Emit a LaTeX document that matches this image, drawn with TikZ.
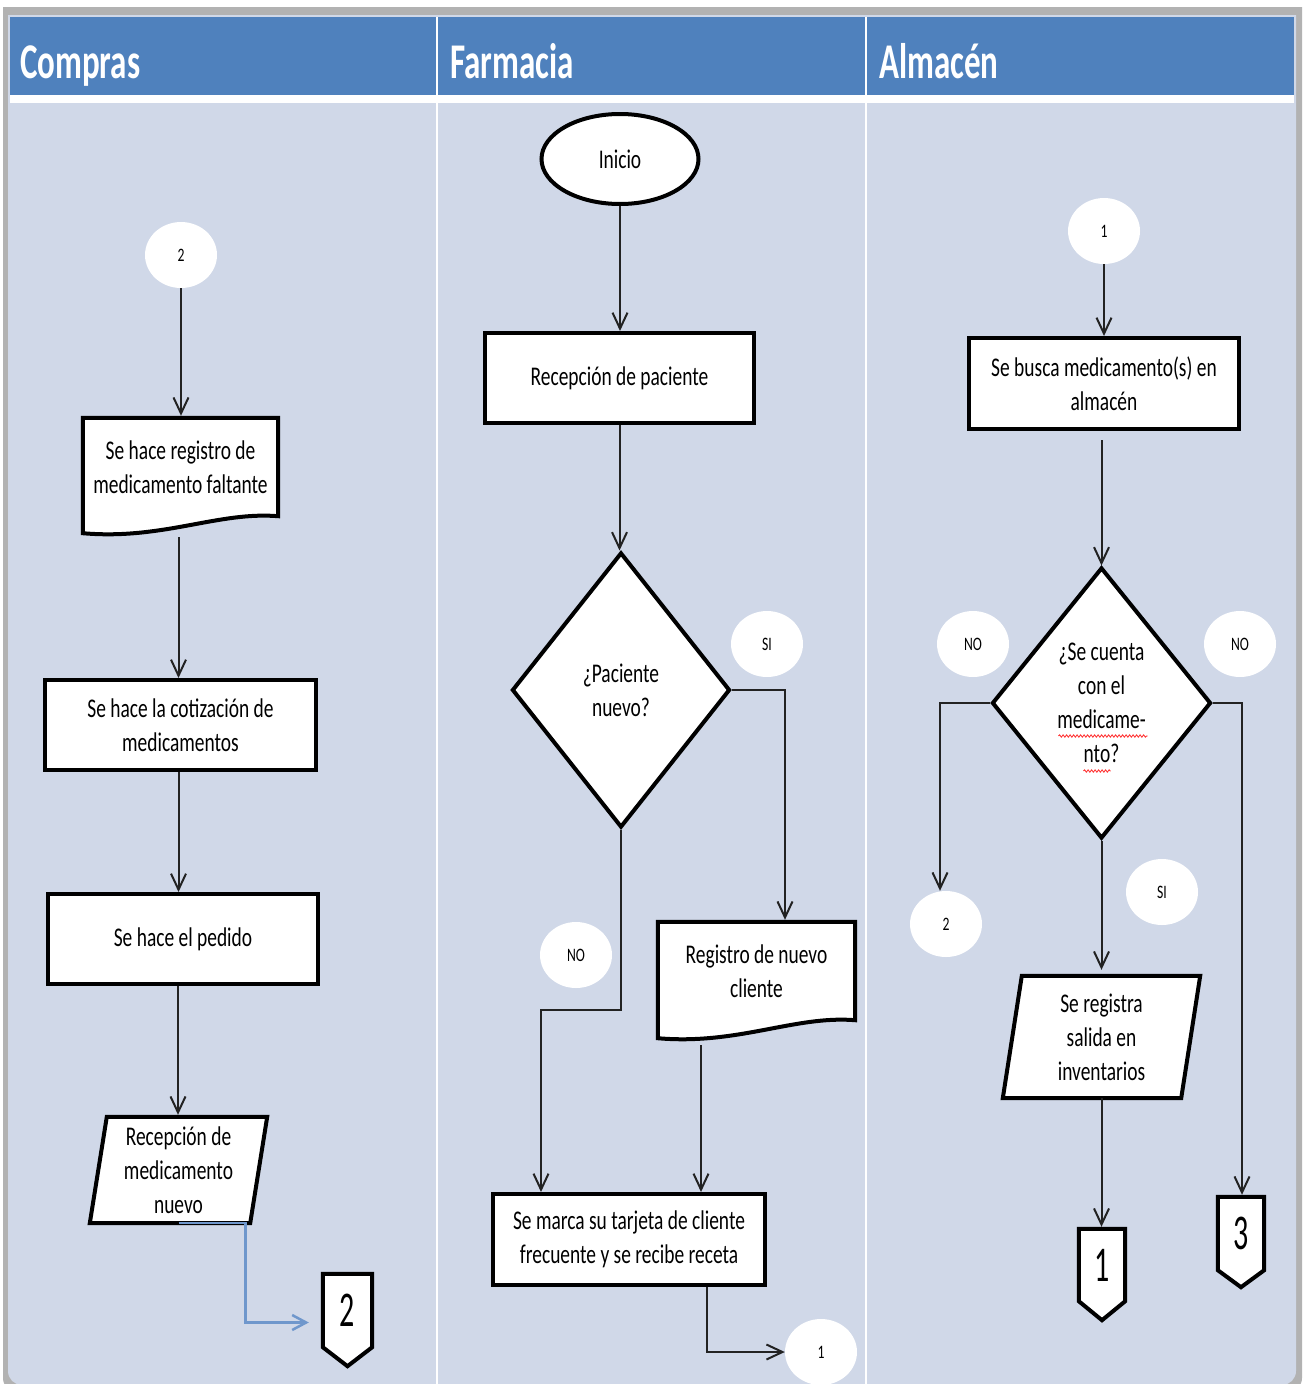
\documentclass[tikz,border=0pt]{standalone}
\usepackage{fontspec}
\setmainfont{Carlito}[FakeStretch=0.72]
\newfontfamily\headfont{Carlito}[FakeStretch=0.66]
\newfontfamily\digfont{Carlito}[FakeStretch=0.6]
\usetikzlibrary{arrows.meta,shapes.geometric,calc,decorations.pathmorphing}
\definecolor{bodybg}{HTML}{D0D8E8}
\definecolor{hdr}{HTML}{4F81BD}
\definecolor{lnk}{HTML}{6F97CC}
\definecolor{edge}{HTML}{222222}
\pgfdeclarelayer{bg}
\pgfdeclarelayer{shp}
\pgfsetlayers{bg,shp,main}
\begin{document}
\begin{tikzpicture}[x=1pt,y=-1pt,
  txt/.style={align=center, inner sep=0pt, font=\fontsize{27}{34}\selectfont},
  box/.style={txt, draw=black, line width=4pt, fill=white},
  outline/.style={draw=black, line width=4pt, fill=white, line join=miter},
  lbl/.style={ellipse, fill=white, inner sep=0pt, minimum width=72pt, minimum height=66pt, font=\fontsize{19}{20}\selectfont},
  dig/.style={inner sep=0pt, font=\digfont\fontsize{50}{50}\selectfont},
  hd/.style={text=white, inner sep=0pt, anchor=base west, font=\headfont\bfseries\fontsize{50}{52}\selectfont},
  conn/.style={draw=edge, line width=2pt, -{Straight Barb[length=16pt,width=15pt]}},
  lnkconn/.style={draw=lnk, line width=2.5pt, -{Straight Barb[length=14pt,width=15pt]}},
  squig/.style={draw=red!85, line width=0.8pt, decorate, decoration={snake, amplitude=1.2pt, segment length=3.5pt}}
]
\useasboundingbox (0,0) rectangle (1307,1384);
% ---------- background ----------
\begin{pgfonlayer}{bg}
  \fill[white] (0,0) rectangle (1307,1384);
  \fill[black!30] (3,7) -- (1302,7) [rounded corners=14pt] -- (1302,1392) -- (3,1392) [sharp corners] -- cycle;
  \fill[bodybg] (8,15) -- (1296,15) [rounded corners=14pt] -- (1296,1385) -- (8,1385) [sharp corners] -- cycle;
  \fill[hdr] (10,17) rectangle (1294,95);
  \fill[white] (10,95) rectangle (1294,103);
  \draw[white, line width=1.5pt] (437,17) -- (437,1385);
  \draw[white, line width=1.5pt] (866,17) -- (866,1385);
\end{pgfonlayer}
% ---------- headers ----------
\node[hd] (hC) at (20,78) {Compras};
\node[hd] (hF) at (450,78) {Farmacia};
\node[hd] (hA) at (879,78) {Almacén};
% ---------- Compras ----------
\node[lbl] (k2) at (181,255) {2};
\node[txt, minimum width=195pt, minimum height=98pt] (d1) at (180.5,467) {Se hace registro de\\medicamento faltante};
\node[box, minimum width=271pt, minimum height=90pt] (r1) at (180.5,725) {Se hace la cotización de\\medicamentos};
\node[box, minimum width=270pt, minimum height=90pt] (r2) at (183,939) {Se hace el pedido};
\node[txt, minimum width=177pt, minimum height=106pt] (p1) at (178.5,1170) {Recepción de\\medicamento\\nuevo};
\node[dig, minimum width=49pt, minimum height=73pt] (op2) at (347.5,1310.5) {2};
% ---------- Farmacia ----------
\node[box, ellipse, minimum width=157pt, minimum height=90pt] (ini) at (620,159) {Inicio};
\node[box, minimum width=269pt, minimum height=90pt] (rp) at (619.5,378) {Recepción de paciente};
\node[box, diamond, aspect=0.8, minimum width=218pt, minimum height=275pt] (q1) at (621,690) {¿Paciente\\nuevo?};
\node[lbl] (si1) at (767,644) {SI};
\node[txt, minimum width=197pt, minimum height=98pt] (d2) at (756.5,971) {Registro de nuevo\\cliente};
\node[lbl] (no1) at (576,955) {NO};
\node[box, minimum width=272pt, minimum height=91pt] (r3) at (629,1239.5) {Se marca su tarjeta de cliente\\frecuente y se recibe receta};
\node[lbl] (c1b) at (821,1352) {1};
% ---------- Almacén ----------
\node[lbl] (c1a) at (1104,231) {1};
\node[box, minimum width=270pt, minimum height=91pt] (r4) at (1104,383.5) {Se busca medicamento(s) en\\almacén};
\node[box, diamond, aspect=0.8, minimum width=219pt, minimum height=271pt] (q2) at (1101.5,703) {¿Se cuenta\\con el\\medicame-\\nto?};
\node[lbl] (noa) at (973,644) {NO};
\node[lbl] (nob) at (1240,644) {NO};
\node[lbl] (c2b) at (946,924) {2};
\node[lbl] (si2) at (1162,892) {SI};
\node[txt, minimum width=197pt, minimum height=122pt] (p2) at (1101.5,1037) {Se registra\\salida en\\inventarios};
\node[dig, minimum width=46pt, minimum height=72pt] (op1) at (1102,1265) {1};
\node[dig, minimum width=46pt, minimum height=73pt] (op3) at (1241,1233.5) {3};
% ---------- custom outlines ----------
\begin{pgfonlayer}{shp}
  \draw[outline] (d1.north west) -- (d1.north east) -- (d1.south east)
     .. controls ($(d1.south east)+(-60,-5)$) and ($(d1.south west)+(80,24)$) .. ($(d1.south west)+(0,17)$) -- cycle;
  \draw[outline] (d2.north west) -- (d2.north east) -- (d2.south east)
     .. controls ($(d2.south east)+(-60,-5)$) and ($(d2.south west)+(80,25)$) .. ($(d2.south west)+(0,18)$) -- cycle;
  \draw[outline] ($(p1.north west)+(17,0)$) -- (p1.north east) -- ($(p1.south east)+(-17,0)$) -- (p1.south west) -- cycle;
  \draw[outline] ($(p2.north west)+(19,0)$) -- (p2.north east) -- ($(p2.south east)+(-19,0)$) -- (p2.south west) -- cycle;
  \draw[outline] (op2.north west) -- (op2.north east) -- (op2.south east) -- ($(op2.south)+(0,19)$) -- (op2.south west) -- cycle;
  \draw[outline] (op1.north west) -- (op1.north east) -- (op1.south east) -- ($(op1.south)+(0,19)$) -- (op1.south west) -- cycle;
  \draw[outline] (op3.north west) -- (op3.north east) -- (op3.south east) -- ($(op3.south)+(0,17)$) -- (op3.south west) -- cycle;
\end{pgfonlayer}
% spell-check squiggles
\draw[squig] ($(q2.center)+(-43,33)$) -- ($(q2.center)+(46,33)$);
\draw[squig] ($(q2.center)+(-18,68)$) -- ($(q2.center)+(9,68)$);
% ---------- connectors: Compras ----------
\draw[conn, shorten >=2pt] (k2.south) -- (k2.south |- d1.north);
\coordinate (d1o) at ($(d1.south)+(-2,21)$);
\draw[conn] (d1o) -- (d1o |- r1.north);
\coordinate (r1o) at ($(r1.south)+(-2,0)$);
\draw[conn] (r1o) -- (r1o |- r2.north);
\coordinate (r2o) at ($(r2.south)+(-5,0)$);
\draw[conn, shorten >=2pt] (r2o) -- (r2o |- p1.north);
\draw[lnkconn] (p1.south) -- ++(67,0) |- ($(op2.west)+(-14,12)$);
% ---------- connectors: Farmacia ----------
\draw[conn] (ini.south) -- (ini.south |- rp.north);
\draw[conn] (rp.south) -- (rp.south |- q1.north);
\draw[conn, shorten >=2pt] (q1.east) -| ($(d2.north)+(28.5,0)$);
\draw[conn] (q1.south) -- ++(0,180) -| ($(r3.north)+(-88,0)$);
\coordinate (d2o) at ($(d2.south)+(-55.5,25)$);
\draw[conn] (d2o) -- (d2o |- r3.north);
\draw[conn] ($(r3.south)+(78,0)$) |- (c1b.west);
% ---------- connectors: Almacén ----------
\draw[conn] (c1a.south) -- (c1a.south |- r4.north);
\coordinate (r4o) at ($(q2.north |- r4.south)+(0,9)$);
\draw[conn] (r4o) -- (q2.north);
\draw[conn] (q2.west) -| ($(c2b.north)+(-6,0)$);
\draw[conn, shorten >=2pt] (q2.east) -| ($(op3.north)+(1,0)$);
\draw[conn, shorten >=6pt] (q2.south) -- (q2.south |- p2.north);
\draw[conn, shorten >=2pt] (p2.south) -- (p2.south |- op1.north);
\end{tikzpicture}
\end{document}
